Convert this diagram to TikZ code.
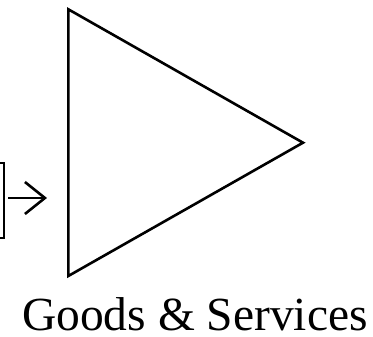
\documentclass[tikz,border=0pt]{standalone}
\usepackage{fontspec}
\setmainfont{Liberation Serif}
\usetikzlibrary{arrows.meta}
\tikzset{
  outline/.style={draw=black, line width=2.6pt, line join=miter},
  flowarrow/.style={draw=black, line width=2.6pt, -{Straight Barb[length=20pt,width=32pt,line width=2.6pt]}},
  caption/.style={font=\fontsize{47.5}{52}\selectfont, inner sep=0pt, text depth=0pt, anchor=base west}
}
\begin{document}
\begin{tikzpicture}[x=1pt,y=1pt]
\useasboundingbox (0,0) rectangle (373,337);
% triangle
\coordinate (tT) at (68.3,327.7);
\coordinate (tB) at (68.3,61);
\coordinate (tR) at (303,194.3);
\draw[outline] (tT) -- (tR) -- (tB) -- cycle;
% partial box at the left edge
\coordinate (bTL) at (-5,174);
\coordinate (bTR) at (4,174);
\coordinate (bBR) at (4,99);
\coordinate (bBL) at (-5,99);
\draw[outline] (bTL) -- (bTR) -- (bBR) -- (bBL);
% arrow
\coordinate (aS) at (8,139);
\coordinate (aE) at (47,139);
\draw[flowarrow] (aS) -- (aE);
% caption
\node[caption] (cap) at (22,6) {Goods \& Services};
\end{tikzpicture}
\end{document}
